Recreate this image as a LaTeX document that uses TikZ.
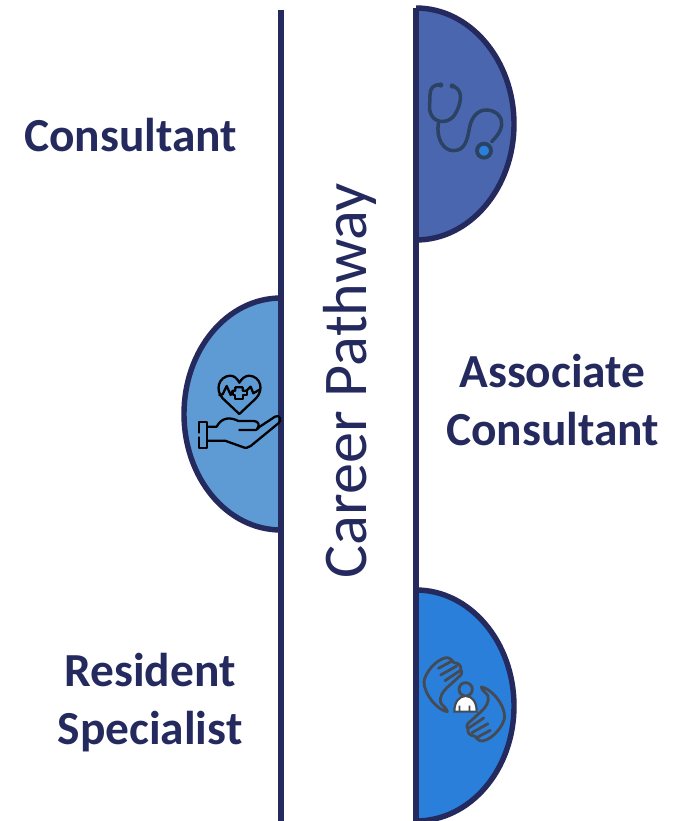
\documentclass[tikz,border=0pt]{standalone}
\usepackage{fontspec}
\setmainfont{Carlito}
\usetikzlibrary{calc}
\definecolor{navy}{HTML}{252A5E}
\definecolor{cardblue}{HTML}{4A66AE}
\definecolor{cardsky}{HTML}{5E9BD4}
\definecolor{cardazure}{HTML}{2A7FDA}
\definecolor{steel}{HTML}{2B4262}
\definecolor{palm}{HTML}{444B55}
\tikzset{
    rail/.style={navy, line width=3.2pt},
    tab/.style={draw=navy, line width=3.1pt},
    rolename/.style={navy, font=\fontsize{27}{33}\selectfont\bfseries, align=center},
    steth/.style={steel, line width=2pt, line cap=round},
    careicon/.style={black, line width=1.3pt, line cap=round, line join=round},
    palmicon/.style={palm, line width=1.6pt, line cap=round, line join=round}
}
\begin{document}
\begin{tikzpicture}[x=0.02cm,y=-0.02cm]
    \useasboundingbox (0,0) rectangle (674,821);

    % half discs
    \fill[cardblue] (416,8) .. controls (470,8) and (514,60) .. (514,124) .. controls (514,188) and (470,240) .. (416,240) -- cycle;
    \draw[tab] (416,8) .. controls (470,8) and (514,60) .. (514,124) .. controls (514,188) and (470,240) .. (416,240);
    \fill[cardsky] (281,298) .. controls (227,298) and (184,350) .. (184,414) .. controls (184,478) and (227,530) .. (281,530) -- cycle;
    \draw[tab] (281,298) .. controls (227,298) and (184,350) .. (184,414) .. controls (184,478) and (227,530) .. (281,530);
    \fill[cardazure] (416,590) .. controls (470,590) and (514,642) .. (514,706) .. controls (514,770) and (470,821) .. (416,821) -- cycle;
    \draw[tab] (416,590) .. controls (470,590) and (514,642) .. (514,706) .. controls (514,770) and (470,821) .. (416,821);

    % rails
    \coordinate (leftTop) at (281,10);
    \coordinate (leftEnd) at (281,821);
    \coordinate (rightTop) at (416,8);
    \coordinate (rightEnd) at (416,821);
    \draw[rail] (leftTop) -- (leftEnd);
    \draw[rail] (rightTop) -- (rightEnd);

    % labels
    \node[rolename] (consultant) at (130.5,135) {Consultant};
    \node[rolename] (associate) at (552.5,400) {Associate\\Consultant};
    \node[rolename] (resident) at (150,703) {Resident\\Specialist};
    \node[navy, rotate=90, font=\fontsize{35.4}{40}\selectfont] (pathway) at (350,381) {Career Pathway};

    % stethoscope
    \begin{scope}[shift={(410,60)},scale=1/3]
        \draw[steth] (92,75) .. controls (70,72) and (60,85) .. (60,105) .. controls (60,125) and (56,150) .. (62,160) .. controls (70,185) and (105,195) .. (130,170) .. controls (145,150) and (155,120) .. (150,100) .. controls (145,85) and (135,80) .. (127,78);
        \draw[steth] (85,190) .. controls (78,235) and (100,272) .. (130,272) .. controls (165,272) and (172,240) .. (178,205) .. controls (184,170) and (205,148) .. (232,150) .. controls (262,152) and (278,175) .. (275,195) .. controls (273,215) and (258,232) .. (245,245);
        \fill[steel] (92,75) circle (8) (127,78) circle (8);
        \draw[steel, line width=2.2pt, fill=cardazure] (222,272) circle (21);
    \end{scope}

    % hand and heart
    \begin{scope}[shift={(180,360)},scale=1/3]
        \draw[careicon] (178,162) -- (128,115) .. controls (105,90) and (115,50) .. (150,47) .. controls (162,47) and (172,55) .. (178,68) .. controls (186,55) and (196,47) .. (208,47) .. controls (243,50) and (252,90) .. (228,115) -- cycle;
        \draw[careicon] (118,105) -- (128,103) -- (140,78) -- (152,105) -- (158,92) -- (166,92) -- (166,82) -- (188,82) -- (188,92) -- (200,92) -- (212,80) -- (220,100) -- (240,88);
        \draw[careicon] (158,92) -- (158,106) -- (166,106) -- (166,118) -- (188,118) -- (188,106) -- (200,106) -- (200,92);
        \draw[careicon] (57,187) -- (80,187) -- (80,265) -- (57,265) -- (57,232) (57,218) -- (57,187);
        \draw[careicon] (85,200) -- (110,200) .. controls (125,172) and (150,170) .. (175,183) -- (222,183) .. controls (236,183) and (240,198) .. (232,205) -- (285,170) .. controls (298,162) and (308,180) .. (295,190) -- (212,258) .. controls (205,265) and (195,265) .. (185,260) -- (135,242) -- (85,242);
        \draw[careicon] (178,210) -- (228,210) -- (236,204);
    \end{scope}

    % hands round the patient
    \begin{scope}[shift={(410,640)},scale=1/3]
        \foreach \turn in {0,180} {
            \begin{scope}[rotate around={\turn:(163,178)}]
                \draw[palmicon] (112,215) .. controls (85,212) and (42,165) .. (42,125) .. controls (45,100) and (75,60) .. (108,53) .. controls (118,52) and (126,60) .. (132,68) .. controls (145,68) and (155,78) .. (152,88) .. controls (158,98) and (155,105) .. (145,112) -- (112,142) .. controls (98,155) and (88,170) .. (92,188) .. controls (96,198) and (112,205) .. (112,215);
                \draw[palmicon] (85,85) -- (128,62) (92,105) -- (140,78) (105,122) -- (150,92);
            \end{scope}
        }
        \fill[cardazure] (167,148) circle (20);
        \draw[palm, line width=1.6pt] (167,148) circle (20);
        \fill[white, draw=palm, line width=1.2pt] (133,215) .. controls (133,185) and (148,168) .. (167,168) .. controls (186,168) and (200,185) .. (200,215) -- cycle;
        \fill[palm] (146,197) rectangle (151,215) (176,197) rectangle (181,215);
    \end{scope}
\end{tikzpicture}
\end{document}
